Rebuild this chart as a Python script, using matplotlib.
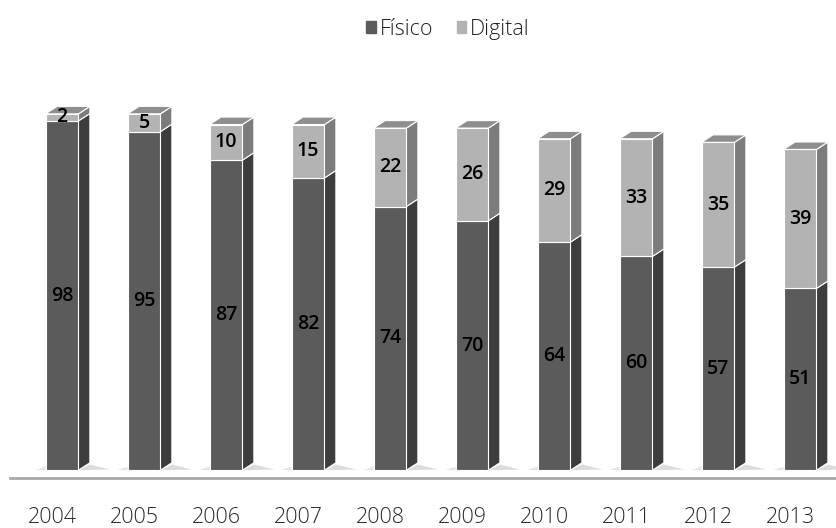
import matplotlib.pyplot as plt
from matplotlib.patches import Polygon, Patch

years = ["2004", "2005", "2006", "2007", "2008", "2009", "2010", "2011", "2012", "2013"]
fisico = [98, 95, 87, 82, 74, 70, 64, 60, 57, 51]
digital = [2, 5, 10, 15, 22, 26, 29, 33, 35, 39]

# face colours: front, side, top
FIS = ("#5b5b5b", "#3d3d3d", "#777777")
DIG = ("#b3b3b3", "#7c7c7c", "#8e8e8e")

plt.rcParams['font.family'] = ['Open Sans', 'DejaVu Sans']

fig = plt.figure(figsize=(8.37, 5.28), dpi=100)
ax = fig.add_axes([0, 0.0909, 1, 0.7765])
ax.set_xlim(-0.756, 9.451)
ax.set_ylim(-2.74, 112.3)
ax.axis("off")

width = 0.40
dx, dy = 0.14, 2.1  # depth of the pseudo-3d box


def box(x0, y0, y1, colors, top=True):
    x1 = x0 + width
    ax.add_patch(Polygon([(x1, y0), (x1 + dx, y0 + dy), (x1 + dx, y1 + dy), (x1, y1)],
                         closed=True, fc=colors[1], ec="white", lw=0.8, zorder=3))
    if top:
        ax.add_patch(Polygon([(x0, y1), (x0 + dx, y1 + dy), (x1 + dx, y1 + dy), (x1, y1)],
                             closed=True, fc=colors[2], ec="white", lw=0.8, zorder=3))


xs = list(range(len(years)))
# soft floor shadows either side of each bar
for x in xs:
    ax.add_patch(Polygon([(x + width / 2, 0), (x + width / 2 + dx + 0.25, 0.2),
                          (x + width / 2 + dx, 1.6)],
                         closed=True, fc="#dcdcdc", ec="none", zorder=1))
    ax.add_patch(Polygon([(x - width / 2 - 0.12, 0.1), (x - width / 2, 0),
                          (x - width / 2, 1.0)],
                         closed=True, fc="#e4e4e4", ec="none", zorder=1))

ax.bar(xs, fisico, width=width, color=FIS[0], edgecolor="white", linewidth=0.8, zorder=4)
ax.bar(xs, digital, width=width, bottom=fisico, color=DIG[0], edgecolor="white",
       linewidth=0.8, zorder=4)

for x, f, d in zip(xs, fisico, digital):
    box(x - width / 2, 0, f, FIS, top=False)
    box(x - width / 2, f, f + d, DIG)
    ax.text(x, f / 2, str(f), ha="center", va="center", fontsize=14,
            fontweight="semibold", color="black", zorder=5)
    ax.text(x, f + d / 2, str(d), ha="center", va="center", fontsize=14,
            fontweight="semibold", color="black", zorder=5)
    ax.text(x - 0.12, -13.2, years[x], ha="center", va="center",
            fontsize=15.5, fontweight="light", color="#2a2a2a", clip_on=False)

# floor line
ax.plot([-0.63, 9.45], [-2.2, -2.2], color="#a8a8a8", lw=2, zorder=2, clip_on=False)

handles = [Patch(color=FIS[0], label="Físico"), Patch(color=DIG[0], label="Digital")]
fig.legend(handles=handles, loc="center", bbox_to_anchor=(0.535, 0.945), ncol=2,
           frameon=False, fontsize=15.5, handlelength=0.45, handleheight=0.45,
           handletextpad=0.15, columnspacing=1.1, labelcolor="#222222",
           prop={"weight": "light", "size": 15.5})

fig.savefig("out.png", dpi=100, facecolor="white")
